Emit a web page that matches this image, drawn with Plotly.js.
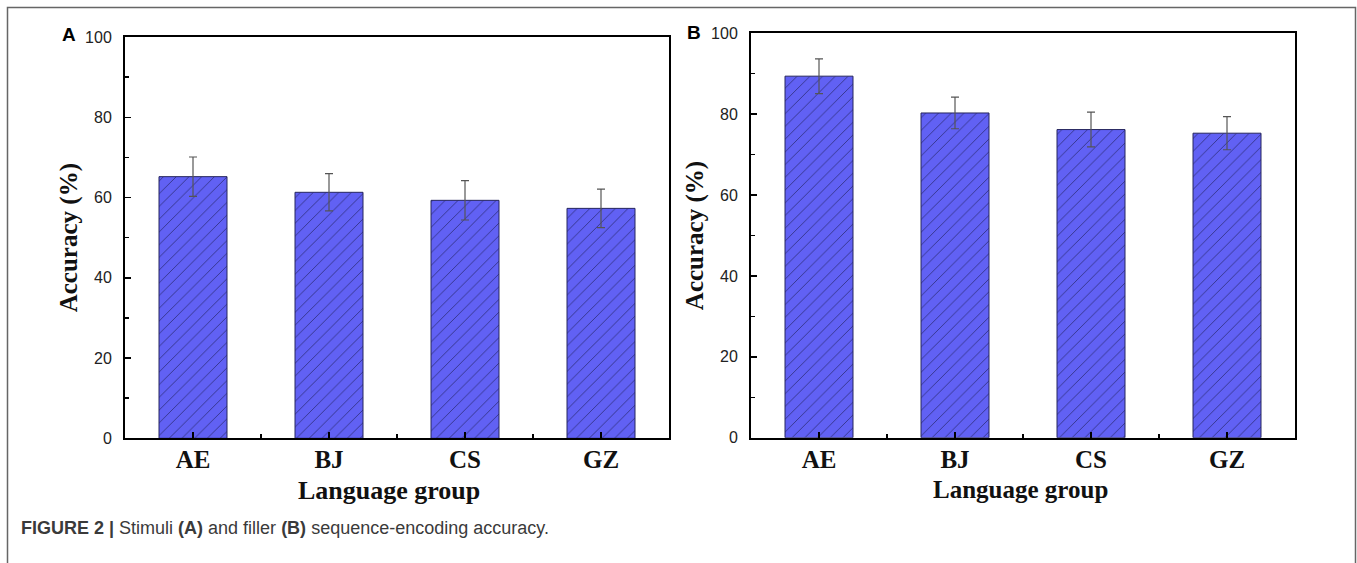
<!DOCTYPE html>
<html>
<head>
<meta charset="utf-8">
<script src="https://cdn.plot.ly/plotly-3.0.1.min.js"></script>
<style>html,body{margin:0;padding:0;background:#fff;}#chart{width:1357px;height:563px;}</style>
</head>
<body>
<div id="chart"></div>
<script>
// ---- data ----
const categories = ["AE", "BJ", "CS", "GZ"];
const stimuliAccuracy = [65.2, 61.3, 59.3, 57.3];   // panel A
const stimuliError    = [4.9, 4.65, 4.9, 4.8];
const fillerAccuracy  = [89.4, 80.3, 76.2, 75.3];   // panel B
const fillerError     = [4.3, 3.9, 4.3, 4.1];
const yTicks = [0, 20, 40, 60, 80, 100];
const xTitle = "Language group";
const yTitle = "Accuracy (%)";
const caption = "<b>FIGURE 2 |</b> Stimuli <b>(A)</b> and filler <b>(B)</b> sequence-encoding accuracy.";

const W = 1357, H = 563;
const idx = categories.map((_, i) => i);
const serif = "Liberation Serif, Times New Roman, serif";
const sans = "Liberation Sans, Arial, sans-serif";

function barTrace(vals, errs, xa, ya) {
  return {
    type: "bar", x: idx, y: vals, xaxis: xa, yaxis: ya, width: 0.5,
    hovertext: categories, hoverinfo: "text+y", textposition: "none",
    marker: {
      color: "#6161f4",
      line: { color: "#26265e", width: 1 },
      pattern: { shape: "/", fgcolor: "#202058", fgopacity: 1, size: 9, solidity: 0.07, fillmode: "overlay" }
    },
    error_y: { type: "data", array: errs, visible: true, color: "#555", thickness: 1.2, width: 4 },
    showlegend: false
  };
}

function xAxis(domain, anchor) {
  return {
    domain: domain, anchor: anchor, range: [-0.5, 3.5],
    tickmode: "array", tickvals: idx, ticktext: categories,
    ticks: "inside", ticklen: 6, tickwidth: 1.5, tickcolor: "#000",
    minor: { tickvals: [0.5, 1.5, 2.5], ticks: "inside", ticklen: 4, tickwidth: 1.5, tickcolor: "#000" },
    showline: true, linecolor: "#000", linewidth: 2, mirror: true,
    showgrid: false, zeroline: false, fixedrange: true,
    tickfont: { family: serif, size: 25, color: "#111", weight: "bold" },
    ticklabelstandoff: -2
  };
}
function yAxis(domain, anchor) {
  return {
    domain: domain, anchor: anchor, range: [0, 100],
    tickmode: "array", tickvals: yTicks,
    ticks: "inside", ticklen: 6, tickwidth: 1.5, tickcolor: "#000",
    minor: { tickvals: [10, 30, 50, 70, 90], ticks: "inside", ticklen: 4, tickwidth: 1.5, tickcolor: "#000" },
    showline: true, linecolor: "#000", linewidth: 2, mirror: true,
    showgrid: false, zeroline: false, fixedrange: true,
    tickfont: { family: sans, size: 16, color: "#222" },
    ticklabelstandoff: 8,
    title: { text: "<b>" + yTitle + "</b>", font: { family: serif, size: 25, color: "#111" }, standoff: 0 }
  };
}

const data = [
  barTrace(stimuliAccuracy, stimuliError, "x", "y"),
  barTrace(fillerAccuracy, fillerError, "x2", "y2")
];

const layout = {
  width: W, height: H,
  margin: { l: 0, r: 0, t: 0, b: 0 },
  paper_bgcolor: "#fff", plot_bgcolor: "#fff",
  xaxis: xAxis([125 / W, 669 / W], "y"),
  yaxis: yAxis([(H - 438.3) / H, (H - 37) / H], "x"),
  xaxis2: xAxis([751 / W, 1295 / W], "y2"),
  yaxis2: yAxis([(H - 437.7) / H, (H - 33.3) / H], "x2"),
  shapes: [
    { type: "rect", xref: "paper", yref: "paper", x0: 7.5 / W, x1: 1355.5 / W, y0: -0.2, y1: (H - 7.5) / H,
      line: { color: "#666", width: 1.5 }, fillcolor: "rgba(0,0,0,0)" }
  ],
  annotations: [
    { text: "<b>" + xTitle + "</b>", xref: "paper", yref: "paper", x: 389 / W, y: (H - 474) / H, showarrow: false,
      xanchor: "center", yanchor: "top", font: { family: serif, size: 26, color: "#111" } },
    { text: "<b>" + xTitle + "</b>", xref: "paper", yref: "paper", x: 1020 / W, y: (H - 474) / H, showarrow: false,
      xanchor: "center", yanchor: "top", font: { family: serif, size: 25, color: "#111" } },
    { text: "<b>A</b>", xref: "paper", yref: "paper", x: 69 / W, y: (H - 34.5) / H, showarrow: false,
      xanchor: "center", yanchor: "middle", font: { family: sans, size: 19, color: "#000" } },
    { text: "<b>B</b>", xref: "paper", yref: "paper", x: 694 / W, y: (H - 32.5) / H, showarrow: false,
      xanchor: "center", yanchor: "middle", font: { family: sans, size: 19, color: "#000" } },
    { text: caption, xref: "paper", yref: "paper", x: 19 / W, y: (H - 528) / H, showarrow: false,
      xanchor: "left", yanchor: "middle", font: { family: sans, size: 18, color: "#3a3a3a" } }
  ]
};

Plotly.newPlot("chart", data, layout, { displayModeBar: false, staticPlot: true });
</script>
</body>
</html>
